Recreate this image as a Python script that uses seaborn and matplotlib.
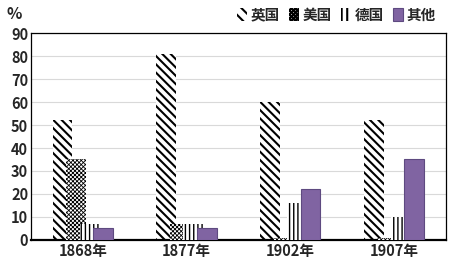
import matplotlib
matplotlib.use("Agg")
import matplotlib.pyplot as plt
from matplotlib.patches import Patch
import seaborn as sns
import pandas as pd

years = ["1868年", "1877年", "1902年", "1907年"]
series = ["英国", "美国", "德国", "其他"]
uk = [52, 81, 60, 52]
us = [35, 7, 1, 1]
de = [7, 7, 16, 10]
other = [5, 5, 22, 35]
yticks = [0, 10, 20, 30, 40, 50, 60, 70, 80, 90]

rows = []
for name, vals in zip(series, [uk, us, de, other]):
    for y, v in zip(years, vals):
        rows.append({"year": y, "country": name, "value": v})
df = pd.DataFrame(rows)

sns.set_theme(style="white")
plt.rcParams["font.family"] = ["Noto Sans CJK SC", "DejaVu Sans"]
plt.rcParams["hatch.linewidth"] = 1.5

fig = plt.figure(figsize=(4.49, 2.62), dpi=100)
ax = fig.add_axes([0.069, 0.084, 0.924, 0.79])

purple = "#8064A2"
sns.barplot(data=df, x="year", y="value", hue="country", order=years,
            hue_order=series, palette=["white", "white", "white", purple],
            ax=ax, legend=False, dodge=True, saturation=1)

hatches = ["\\\\\\\\", "xxxxxxxx", "||||", None]
hlw = [1.5, 0.6, 1.0, None]
offsets = [-0.195, -0.065, 0.065, 0.195]
width = 0.19


def set_hlw(p, w):
    if hasattr(p, "set_hatch_linewidth"):
        p.set_hatch_linewidth(w)
    else:
        p._hatch_linewidth = w


for i, cont in enumerate(ax.containers):
    for j, bar in enumerate(cont):
        bar.set_x(j + offsets[i] - width / 2)
        bar.set_width(width)
        bar.set_zorder(2 + i)
        if hatches[i]:
            bar.set_hatch(hatches[i])
            bar.set_edgecolor("black")
            bar.set_linewidth(0)
            bar.set_facecolor("white")
            set_hlw(bar, hlw[i])
        else:
            bar.set_edgecolor("#5E4A80")
            bar.set_linewidth(0.8)

ax.set_ylim(0, 90)
ax.set_xlim(-0.5, 3.5)
ax.set_yticks(yticks)
ax.set_yticklabels([str(t) for t in yticks], fontsize=10.5, fontweight="bold")
ax.set_xticks(range(4))
ax.set_xticklabels(years, fontsize=10.5, fontweight="bold")
ax.set_xlabel("")
ax.set_ylabel("")
ax.tick_params(axis="both", length=0, pad=2)
ax.yaxis.grid(True, color="#D9D9D9", linewidth=0.8)
ax.set_axisbelow(True)
for s in ax.spines.values():
    s.set_color("black")
    s.set_linewidth(0.9)
ax.spines["bottom"].set_linewidth(1.6)

fig.text(0.015, 0.945, "%", fontsize=11.5, fontweight="bold", va="center")

handles = [
    Patch(facecolor="white", edgecolor="black", hatch="\\\\\\", linewidth=0),
    Patch(facecolor="white", edgecolor="black", hatch="xxxxxxxx", linewidth=0),
    Patch(facecolor="white", edgecolor="black", hatch="|||", linewidth=0),
    Patch(facecolor=purple, edgecolor="#5E4A80", linewidth=0.8),
]
for h, w in zip(handles[:3], hlw[:3]):
    set_hlw(h, w)
fig.legend(handles, series, loc="upper right", bbox_to_anchor=(1.0, 1.025),
           ncol=4, frameon=False, handlelength=0.7, handleheight=0.9,
           handletextpad=0.25, columnspacing=0.6,
           prop={"size": 10.5, "weight": "bold"})

fig.savefig("out.png", dpi=100)
